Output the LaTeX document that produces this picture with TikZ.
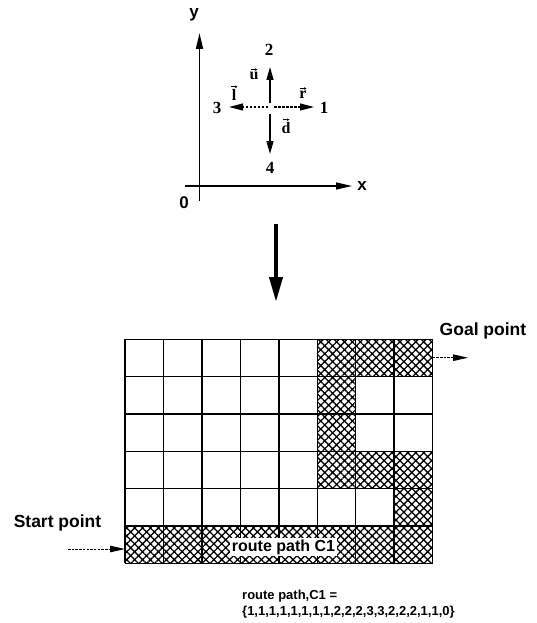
\documentclass[tikz,border=0pt]{standalone}
\usepackage{fontspec}
\setmainfont{Liberation Serif}
\newfontfamily\lsans{Liberation Sans}
\usetikzlibrary{arrows.meta,patterns.meta}

\tikzset{
  axislabel/.style={font=\lsans\bfseries\fontsize{17}{19}\selectfont, inner sep=0pt},
  dirnum/.style={font=\bfseries\fontsize{17}{19}\selectfont, inner sep=0pt},
  veclabel/.style={font=\bfseries\fontsize{16}{18}\selectfont, inner sep=0pt},
  vecmark/.style={line width=0.6pt, -{Stealth[length=2.6pt,width=2.6pt]}},
  bigtext/.style={font=\lsans\bfseries\fontsize{17.5}{20}\selectfont, inner sep=0pt},
  smalltext/.style={font=\lsans\bfseries\fontsize{13}{15}\selectfont, inner sep=0pt, anchor=west},
  axisline/.style={line width=1.8pt, -{Triangle[length=16pt,width=7pt]}},
  dirarrow/.style={line width=1.4pt, -{Triangle[length=13pt,width=7pt]}},
  dirdash/.style={line width=1.1pt, dash pattern=on 2.5pt off 1.5pt, -{Triangle[length=14pt,width=7pt]}},
  pointer/.style={line width=0.9pt, dash pattern=on 2.5pt off 1.2pt, -{Triangle[length=15pt,width=6.5pt]}},
  bigarrow/.style={line width=4pt, -{Triangle[length=25pt,width=13pt]}},
  gridline/.style={line width=1.5pt},
  hatched/.style={pattern={Hatch[angle=45,distance=5.6pt,line width=1.3pt]}},
}

\begin{document}
\begin{tikzpicture}[x=1pt,y=-1pt]
\useasboundingbox (0,0) rectangle (537,623);

% ---------- coordinate frame and the four moves ----------
\coordinate (ybot) at (199.5,201);
\coordinate (ytop) at (199.5,33);
\coordinate (xleft) at (185,186);
\coordinate (xright) at (352,186);
\draw[axisline] (ybot) -- (ytop);
\draw[axisline, line width=1.3pt] (xleft) -- (xright);
\node[axislabel] (ylab) at (194,15) {y};
\node[axislabel] (xlab) at (362,186) {x};
\node[axislabel] (olab) at (184,203) {0};

\coordinate (cu) at (270,103);
\coordinate (cd) at (270,114);
\coordinate (cl) at (268,107);
\coordinate (cr) at (274,107);
\coordinate (tu) at (270,67);
\coordinate (td) at (270,154);
\coordinate (tl) at (229,107);
\coordinate (tr) at (314,107);
\draw[dirarrow] (cu) -- (tu);
\draw[dirarrow] (cd) -- (td);
\draw[dirdash] (cl) -- (tl);
\draw[dirdash] (cr) -- (tr);

\node[dirnum] (n2) at (269,50) {2};
\node[dirnum] (n3) at (217,108) {3};
\node[dirnum] (n1) at (324,108) {1};
\node[dirnum] (n4) at (270,168) {4};

% unit vectors: letter plus a small arrow drawn above it
\node[veclabel] (vu) at (254,76) {u};
\node[veclabel] (vl) at (234,95) {l};
\node[veclabel] (vr) at (303,95) {r};
\node[veclabel] (vd) at (286,128) {d};
\foreach \v in {vu,vl,vr,vd}{
  \draw[vecmark] ([xshift=-3pt,yshift=2.5pt]\v.north) -- ([xshift=3.5pt,yshift=2.5pt]\v.north);
}

% ---------- transition arrow ----------
\coordinate (ba) at (276,224);
\coordinate (bb) at (276,302);
\draw[bigarrow] (ba) -- (bb);

% ---------- grid world with the route ----------
\def\gx{125}
\def\gy{339.3}
\def\cw{38.45}
\def\rh{37.33}
\foreach \col/\row in {6/1,7/1,8/1,6/2,6/3,6/4,7/4,8/4,8/5,
                       1/6,2/6,3/6,4/6,5/6,6/6,7/6,8/6}{
  \fill[hatched] ({\gx+(\col-1)*\cw},{\gy+(\row-1)*\rh}) rectangle +(\cw,\rh);
}
\foreach \i in {0,...,8}{
  \draw[gridline] ({\gx+\i*\cw},\gy) -- ({\gx+\i*\cw},{\gy+6*\rh});
}
\foreach \j in {0,...,6}{
  \draw[gridline] (\gx,{\gy+\j*\rh}) -- ({\gx+8*\cw},{\gy+\j*\rh});
}

\node[bigtext, fill=white, inner xsep=1.5pt, inner ysep=2pt,
      font=\lsans\bfseries\fontsize{16}{18}\selectfont] (route) at (283.5,547) {route path C1};

% ---------- goal and start ----------
\node[bigtext] (goal) at (483,331) {Goal point};
\coordinate (goalfrom) at (432.6,357.7);
\coordinate (goalto) at (468,357.7);
\draw[pointer] (goalfrom) -- (goalto);

\node[bigtext] (start) at (57.5,523) {Start point};
\coordinate (startfrom) at (68,549);
\coordinate (startto) at (125,549);
\draw[pointer] (startfrom) -- (startto);

% ---------- route code ----------
\node[smalltext] (eq1) at (242,596) {route path,C1 =};
\node[smalltext] (eq2) at (242,612) {\{1,1,1,1,1,1,1,1,2,2,2,3,3,2,2,2,1,1,0\}};
\end{tikzpicture}
\end{document}
